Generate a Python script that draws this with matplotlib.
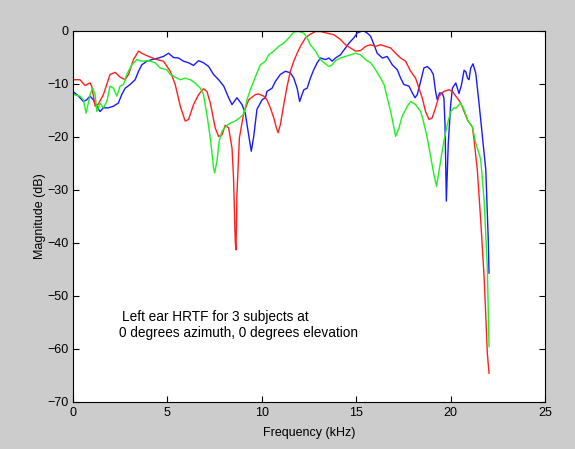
import matplotlib
matplotlib.use('Agg')
import matplotlib.pyplot as plt

plt.rcParams['font.family'] = ['Liberation Sans', 'DejaVu Sans']

# subject 1 (red)
red_f = [0.02, 0.37, 0.64, 0.90, 0.99, 1.17, 1.34, 1.61, 1.96, 2.23, 2.49, 2.76, 2.94, 3.20, 3.47,
         3.64, 4.00, 4.44, 4.79, 5.15, 5.41, 5.68, 5.94, 6.12, 6.38, 6.65, 6.91, 7.09, 7.27, 7.53,
         7.71, 7.89, 8.06, 8.24, 8.42, 8.50, 8.59, 8.63, 8.68, 8.81, 9.04, 9.30, 9.66, 9.83, 10.10,
         10.27, 10.45, 10.63, 10.77, 10.86, 10.98, 11.16, 11.34, 11.51, 11.69, 11.87, 12.04, 12.31,
         12.57, 12.84, 13.10, 13.45, 13.81, 14.16, 14.43, 14.69, 14.96, 15.23, 15.49, 15.76, 16.02,
         16.29, 16.55, 16.82, 17.08, 17.35, 17.61, 17.88, 18.14, 18.32, 18.49, 18.67, 18.85, 19.02,
         19.20, 19.38, 19.64, 19.91, 20.09, 20.27, 20.36, 20.53, 20.71, 20.89, 21.15, 21.24, 21.41,
         21.59, 21.77, 21.86, 21.94, 22.03]
red_db = [-9.2, -9.2, -10.3, -9.8, -10.4, -14.2, -13.8, -12.0, -8.2, -7.8, -8.7, -9.2, -8.2, -5.4, -3.8,
          -4.2, -4.8, -5.4, -5.7, -7.6, -10.1, -14.2, -17.0, -16.7, -13.9, -12.0, -10.9, -11.4, -13.6, -18.3,
          -19.9, -19.6, -17.8, -18.3, -22.1, -27.7, -39.7, -41.3, -30.9, -20.2, -15.5, -13.0, -12.0, -11.9, -12.3,
          -13.0, -14.5, -16.4, -18.3, -19.2, -17.7, -13.9, -10.4, -7.6, -5.7, -4.2, -2.9, -1.3,
          -0.6, -0.1, -0.1, -0.4, -0.7, -1.6, -2.6, -3.2, -3.8, -3.7, -2.9, -2.6, -2.9,
          -2.6, -2.9, -3.2, -4.2, -5.1, -5.7, -7.6, -8.9, -10.8, -12.6, -15.2, -16.7, -16.4,
          -14.5, -12.3, -11.4, -11.1, -11.4, -12.3, -12.7, -13.6, -15.2, -16.8, -18.1, -20.6, -26.2,
          -35.7, -46.4, -53.9, -60.8, -64.6]

# subject 2 (green)
green_f = [0.02, 0.37, 0.55, 0.69, 0.81, 0.90, 1.04, 1.17, 1.26, 1.43, 1.61, 1.79, 1.96, 2.14, 2.32,
           2.49, 2.67, 2.85, 3.11, 3.38, 3.64, 3.99, 4.35, 4.62, 4.97, 5.15, 5.41, 5.68, 5.94, 6.21,
           6.47, 6.74, 6.91, 7.09, 7.27, 7.44, 7.50, 7.62, 7.74, 7.89, 8.15, 8.33, 8.59, 8.86, 9.04,
           9.21, 9.39, 9.66, 9.92, 10.19, 10.36, 10.63, 10.89, 11.16, 11.43, 11.69, 11.96, 12.22,
           12.40, 12.57, 12.84, 13.10, 13.37, 13.55, 13.72, 13.90, 14.16, 14.43, 14.69, 14.96, 15.23,
           15.49, 15.76, 16.02, 16.29, 16.47, 16.64, 16.82, 17.00, 17.08, 17.26, 17.43, 17.70, 17.88,
           18.14, 18.41, 18.58, 18.76, 18.94, 19.11, 19.25, 19.38, 19.52, 19.64, 19.82, 20.00, 20.18,
           20.27, 20.53, 20.71, 20.89, 21.15, 21.33, 21.50, 21.59, 21.77, 21.94, 22.03]
green_db = [-12.0, -12.3, -13.0, -15.5, -13.6, -12.0, -10.8, -12.0, -15.2, -13.6, -14.5, -13.3, -10.4, -10.8, -12.3,
            -10.4, -10.1, -8.2, -6.4, -5.4, -5.7, -5.6, -6.0, -7.0, -7.3, -8.2, -8.7, -9.2, -8.9, -9.2,
            -9.8, -10.8, -12.0, -15.8, -20.2, -25.8, -26.8, -24.6, -20.8, -18.9, -17.8, -17.4, -17.0, -16.3, -15.7,
            -13.0, -11.1, -8.6, -6.4, -5.7, -4.5, -3.8, -2.9, -2.3, -1.3, -0.2, -0.1, -0.4,
            -1.3, -2.6, -3.8, -5.4, -6.2, -6.7, -6.4, -5.6, -5.1, -4.8, -4.5, -4.2, -4.5,
            -5.4, -6.0, -7.3, -8.9, -10.1, -12.6, -15.2, -18.3, -19.9, -18.3, -16.1, -14.2, -13.3,
            -13.9, -15.2, -17.4, -20.2, -23.7, -27.1, -29.3, -26.5, -23.3, -20.8, -17.7, -15.2, -14.5,
            -14.6, -13.6, -14.9, -16.8, -18.1, -21.2, -23.1, -24.3, -31.9, -44.5, -59.6]

# subject 3 (blue)
blue_f = [0.02, 0.29, 0.55, 0.72, 0.90, 1.08, 1.26, 1.43, 1.61, 1.87, 2.14, 2.40, 2.58, 2.76, 3.02,
          3.29, 3.47, 3.64, 3.91, 4.18, 4.53, 4.79, 5.06, 5.32, 5.59, 5.85, 6.12, 6.38, 6.65, 6.91,
          7.18, 7.44, 7.71, 7.98, 8.24, 8.42, 8.68, 8.95, 9.12, 9.30, 9.44, 9.57, 9.74, 10.01, 10.19,
          10.27, 10.54, 10.72, 10.98, 11.25, 11.51, 11.69, 11.87, 12.00, 12.13, 12.22, 12.40, 12.57,
          12.75, 12.93, 13.10, 13.37, 13.55, 13.72, 13.90, 14.16, 14.43, 14.61, 14.87, 15.05, 15.23,
          15.40, 15.58, 15.76, 15.94, 16.11, 16.38, 16.64, 16.91, 17.17, 17.35, 17.52, 17.79, 17.97,
          18.11, 18.23, 18.41, 18.58, 18.76, 18.94, 19.08, 19.20, 19.29, 19.41, 19.55, 19.64, 19.70,
          19.77, 19.87, 20.00, 20.09, 20.27, 20.44, 20.57, 20.71, 20.80, 20.89, 20.97, 21.06, 21.18,
          21.33, 21.50, 21.68, 21.86, 21.94, 21.99, 22.03]
blue_db = [-11.5, -12.3, -13.3, -13.0, -12.3, -13.0, -14.2, -15.2, -14.5, -14.5, -14.2, -13.6, -12.0, -10.8, -10.1,
           -9.2, -7.6, -6.4, -5.7, -5.4, -5.1, -4.8, -4.2, -5.0, -5.1, -5.7, -6.0, -6.5, -5.6, -6.0,
           -6.7, -8.2, -9.2, -10.4, -12.6, -13.9, -12.6, -13.9, -15.5, -19.6, -22.7, -19.9, -14.8, -13.0, -12.6,
           -11.4, -10.8, -9.5, -8.2, -7.6, -7.9, -8.9, -10.8, -13.3, -12.0, -11.1, -10.8, -8.9,
           -7.3, -6.0, -5.1, -5.4, -5.1, -5.7, -5.1, -4.5, -3.2, -2.3, -1.3, -0.4, -0.1,
           0.0, -0.4, -1.0, -2.6, -4.2, -5.1, -4.8, -6.4, -7.3, -8.9, -10.1, -10.4, -11.7,
           -12.6, -12.0, -9.5, -7.0, -6.7, -7.3, -8.2, -11.4, -13.0, -11.7, -11.7, -12.6, -17.7,
           -32.1, -21.4, -13.9, -10.8, -9.8, -11.8, -10.2, -7.4, -7.7, -8.9, -9.2, -7.0, -6.2,
           -8.0, -13.6, -19.9, -26.2, -34.4, -39.4, -45.7]

x_ticks = [0, 5, 10, 15, 20, 25]
y_ticks = [0, -10, -20, -30, -40, -50, -60, -70]

fig = plt.figure(figsize=(5.75, 4.49), dpi=100, facecolor='#cccccc')
ax = fig.add_axes([0.127, 0.105, 0.821, 0.826])

ax.plot(blue_f, blue_db, color='#1a1aff', lw=1.0)
ax.plot(red_f, red_db, color='#ff2020', lw=1.0)
ax.plot(green_f, green_db, color='#20f020', lw=1.0)

ax.set_xlim(0, 25)
ax.set_ylim(-70, 0)
ax.set_xticks(x_ticks)
ax.set_yticks(y_ticks)
ax.tick_params(direction='in', top=True, right=True, labelsize=9, length=4, width=0.8)
for s in ax.spines.values():
    s.set_linewidth(0.8)

ax.set_xlabel('Frequency (kHz)', fontsize=9, labelpad=6)
ax.set_ylabel('Magnitude (dB)', fontsize=9, labelpad=1)

ax.text(2.58, -54.7, 'Left ear HRTF for 3 subjects at', fontsize=9.8, va='baseline')
ax.text(2.45, -57.7, '0 degrees azimuth, 0 degrees elevation', fontsize=9.8, va='baseline')

fig.savefig('out.png', dpi=100, facecolor=fig.get_facecolor())
